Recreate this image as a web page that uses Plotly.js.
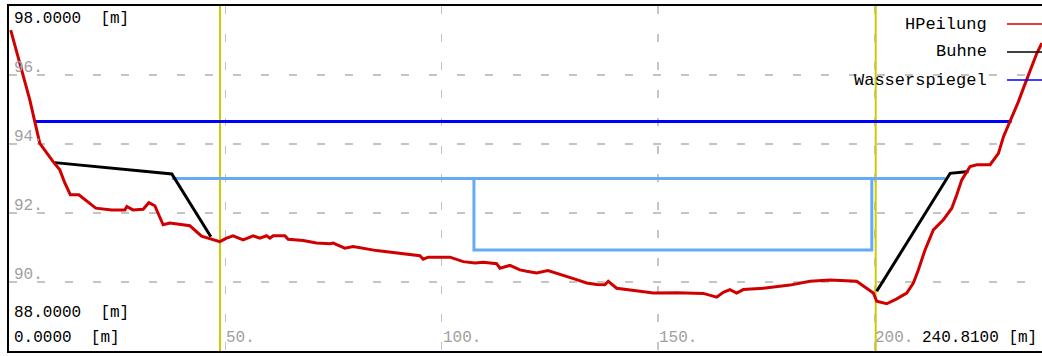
<!DOCTYPE html>
<html>
<head>
<meta charset="utf-8">
<script src="https://cdn.plot.ly/plotly-3.0.1.min.js"></script>
<style>
  html, body { margin: 0; padding: 0; background: #fff; overflow: hidden; width: 1042px; height: 356px; }
  #chart { width: 1051px; height: 356px; }
</style>
</head>
<body>
<div id="chart"></div>
<script>
// ---- Data ----
const hpX = [0.4, 4.81, 5.96, 7.12, 10.19, 11.74, 12.9, 14.17, 16.13, 20.06, 23.76, 26.77, 27.23, 28.62, 31.0, 32.32, 33.7, 34.86, 35.62, 37.17, 41.8, 44.5, 47.11, 48.73, 50.28, 51.8, 54.11, 56.43, 57.97, 59.52, 60.29, 61.05, 63.75, 64.52, 67.98, 71.08, 74.16, 74.92, 77.62, 79.54, 84.95, 90.34, 94.96, 95.72, 96.88, 101.9, 104.97, 107.67, 109.6, 112.69, 113.46, 115.77, 118.08, 119.63, 121.94, 124.55, 127.72, 128.87, 131.18, 133.49, 135.81, 137.72, 138.49, 140.43, 142.74, 145.82, 148.89, 154.3, 160.45, 163.55, 165.07, 166.62, 168.17, 169.7, 174.33, 177.72, 180.49, 185.1, 189.73, 195.9, 198.21, 199.75, 200.53, 202.84, 205.15, 207.46, 209.0, 210.15, 211.7, 213.62, 215.93, 217.88, 219.03, 220.19, 222.11, 223.66, 226.74, 228.66, 229.82, 230.97, 231.76, 233.28, 234.44, 235.98, 237.53, 238.69];
const hpY = [97.30, 95.28, 94.65, 94.02, 93.49, 93.25, 92.87, 92.53, 92.53, 92.14, 92.09, 92.09, 92.19, 92.09, 92.11, 92.30, 92.21, 91.90, 91.66, 91.71, 91.63, 91.33, 91.24, 91.17, 91.27, 91.34, 91.22, 91.34, 91.27, 91.34, 91.27, 91.34, 91.34, 91.24, 91.20, 91.13, 91.11, 91.13, 90.98, 91.03, 90.91, 90.84, 90.76, 90.66, 90.72, 90.72, 90.59, 90.55, 90.57, 90.53, 90.40, 90.48, 90.35, 90.31, 90.26, 90.33, 90.21, 90.18, 90.07, 89.97, 89.93, 89.92, 90.02, 89.82, 89.79, 89.73, 89.68, 89.69, 89.67, 89.56, 89.70, 89.78, 89.68, 89.78, 89.82, 89.87, 89.91, 90.02, 90.06, 90.02, 89.82, 89.68, 89.44, 89.37, 89.51, 89.68, 89.97, 90.35, 90.93, 91.51, 91.80, 92.14, 92.53, 92.96, 93.35, 93.40, 93.40, 93.73, 94.21, 94.55, 94.75, 95.23, 95.62, 96.15, 96.63, 96.92];

const buhneX = [10.59, 37.63, 46.65, null, 200.53, 217.5, 221.75];
const buhneY = [93.46, 93.13, 91.31, null, 89.73, 93.15, 93.20];

const wspX = [5.96, 231.7];
const wspY = [94.65, 94.65];

const rinneX = [37.63, 216.4, null, 107.45, 107.45, 199.4, 199.4];
const rinneY = [93.0, 93.0, null, 93.0, 90.93, 90.93, 93.0];

const markerX = [48.77, 48.77, null, 200.3, 200.3];
const markerY = [88, 98, null, 88, 98];

const xRange = [0, 240.81];
const yRange = [88, 98];
const xTicks = [50, 100, 150, 200];
const xTickLabels = ['50.', '100.', '150.', '200.'];
const yTicks = [90, 92, 94, 96];
const yTickLabels = ['90.', '92.', '94.', '96.'];
const legendNames = ['HPeilung', 'Buhne', 'Wasserspiegel'];
const legendColors = ['#d00000', '#000000', '#0000ff'];

const NB = '\u00a0';
const FONT = 'Liberation Mono, DejaVu Sans Mono, monospace';

const traces = [
  {x: markerX, y: markerY, mode: 'lines', line: {color: '#cccc00', width: 2}, hoverinfo: 'skip', showlegend: false},
  {x: rinneX, y: rinneY, mode: 'lines', line: {color: '#66aaf5', width: 3}, connectgaps: false, hoverinfo: 'skip', showlegend: false},
  {x: wspX, y: wspY, mode: 'lines', line: {color: '#0000ff', width: 3}, name: legendNames[2], showlegend: false},
  {x: buhneX, y: buhneY, mode: 'lines', line: {color: '#000000', width: 3}, connectgaps: false, name: legendNames[1], showlegend: false},
  {x: hpX, y: hpY, mode: 'lines', line: {color: '#d00000', width: 3}, name: legendNames[0], showlegend: false}
];

const annotations = [];
yTicks.forEach((v, i) => annotations.push({
  x: 0.6, y: v, xref: 'x', yref: 'y', text: yTickLabels[i], showarrow: false,
  xanchor: 'left', yanchor: 'bottom', yshift: -4, font: {family: FONT, size: 16, color: '#a0a0a0'}
}));
xTicks.forEach((v, i) => annotations.push({
  x: v, y: 0, xref: 'x', yref: 'paper', text: xTickLabels[i], showarrow: false,
  xanchor: 'left', yanchor: 'bottom', xshift: -1, yshift: 2, font: {family: FONT, size: 16, color: '#a0a0a0'}
}));
annotations.push({x: 0.6, y: 1, xref: 'x', yref: 'paper', text: yRange[1].toFixed(4) + NB + NB + '[m]', showarrow: false,
  xanchor: 'left', yanchor: 'top', yshift: -2, font: {family: FONT, size: 16, color: '#000'}});
annotations.push({x: 0.6, y: 0, xref: 'x', yref: 'paper', text: yRange[0].toFixed(4) + NB + NB + '[m]', showarrow: false,
  xanchor: 'left', yanchor: 'bottom', yshift: 27, font: {family: FONT, size: 16, color: '#000'}});
annotations.push({x: 0.6, y: 0, xref: 'x', yref: 'paper', text: xRange[0].toFixed(4) + NB + NB + '[m]', showarrow: false,
  xanchor: 'left', yanchor: 'bottom', yshift: 2, font: {family: FONT, size: 16, color: '#000'}});
annotations.push({x: 210.5, y: 0, xref: 'x', yref: 'paper', text: xRange[1].toFixed(4) + NB + '[m]', showarrow: false,
  xanchor: 'left', yanchor: 'bottom', yshift: 2, font: {family: FONT, size: 16, color: '#000'}});

const shapes = [];
legendNames.forEach((n, i) => {
  const yp = 24 + i * 28;
  annotations.push({x: 989, y: 356 - yp, xref: 'paper', yref: 'paper', text: n, showarrow: false,
    xanchor: 'right', yanchor: 'middle', font: {family: FONT, size: 17, color: '#000'}});
});

const layout = {
  width: 1051, height: 356,
  margin: {l: 9, r: 0, t: 6, b: 5},
  paper_bgcolor: '#fff', plot_bgcolor: '#fff',
  showlegend: false,
  xaxis: {range: xRange, tickvals: xTicks, showticklabels: false, ticks: '',
    showgrid: true, gridcolor: '#c4c4c4', gridwidth: 1.5, griddash: '8px,20px',
    zeroline: false, showline: true, linecolor: '#000', linewidth: 2, mirror: true, fixedrange: true},
  yaxis: {range: yRange, tickvals: yTicks, showticklabels: false, ticks: '',
    showgrid: true, gridcolor: '#c4c4c4', gridwidth: 1.5, griddash: '8px,20px',
    zeroline: false, showline: true, linecolor: '#000', linewidth: 2, mirror: true, fixedrange: true},
  annotations: annotations,
  shapes: shapes
};

// legend annotations and line samples use pixel-based paper coordinates
const plotW = 1051 - 9, plotH = 356 - 11;
layout.annotations.forEach(a => {
  if (a.xref === 'paper' && a.x > 1) {
    a.x = (a.x - 9) / plotW;
    a.y = (a.y - 5) / plotH;
  }
});
legendNames.forEach((n, i) => {
  const yp = 24 + i * 28;
  const yy = (356 - yp - 5) / plotH;
  shapes.push({type: 'line', xref: 'paper', yref: 'paper', x0: (1007 - 9) / plotW, x1: (1051 - 9) / plotW,
    y0: yy, y1: yy, line: {color: legendColors[i], width: 1.5}});
});

Plotly.newPlot('chart', traces, layout, {staticPlot: true, displayModeBar: false});
</script>
</body>
</html>
